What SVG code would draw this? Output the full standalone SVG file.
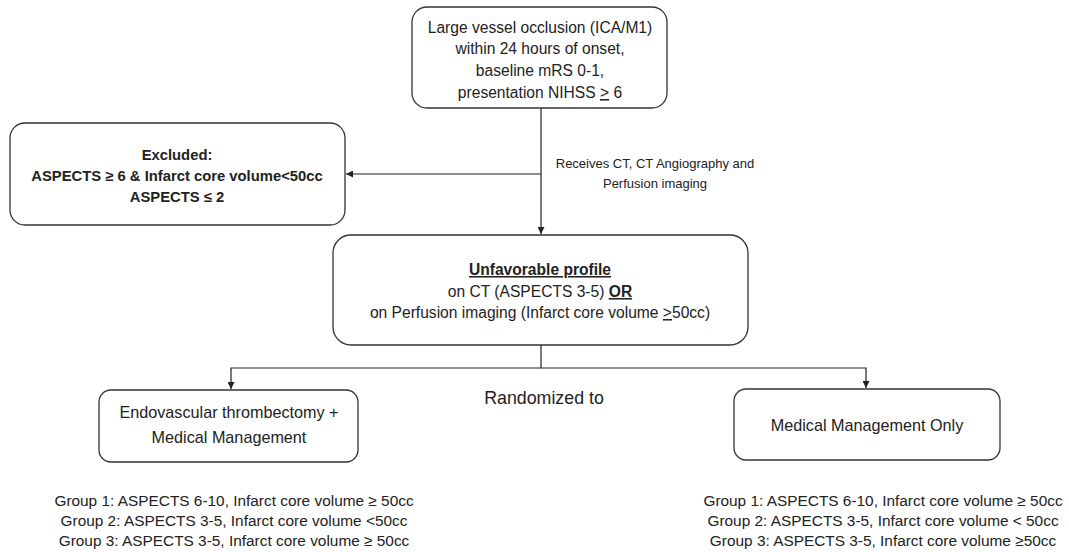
<svg xmlns="http://www.w3.org/2000/svg" width="1069" height="552" viewBox="0 0 1069 552">
<style>
.box{fill:#fff;stroke:#333;stroke-width:1.3}
.t{font-family:"Liberation Sans",Arial,sans-serif;fill:#222;text-anchor:middle}
.n{font-size:15.6px}
.m{font-size:16.2px}
.b{font-size:14.8px;font-weight:bold}
.s{font-size:13px}
.g{font-size:15.4px}
.ln{fill:none;stroke:#222;stroke-width:1.2}
</style>
<defs>
<marker id="ah" viewBox="0 0 10 10" refX="10" refY="5" markerWidth="7" markerHeight="7" orient="auto" markerUnits="userSpaceOnUse">
<path d="M0,0 L10,5 L0,10 z" fill="#222"/>
</marker>
</defs>
<rect width="1069" height="552" fill="#fff"/>
<g id="connectors">
<line class="ln" x1="541" y1="108" x2="541" y2="234" marker-end="url(#ah)"/>
<line class="ln" x1="541" y1="174" x2="346" y2="174" marker-end="url(#ah)"/>
<polyline class="ln" points="541,345 541,368 231,368 231,389" marker-end="url(#ah)"/>
<polyline class="ln" points="541,368 866,368 866,388" marker-end="url(#ah)"/>
</g>
<g id="n-top">
<rect class="box" x="412" y="7" width="255" height="101" rx="15"/>
<text class="t n" x="540" y="33">Large vessel occlusion (ICA/M1)</text>
<text class="t n" x="540" y="54">within 24 hours of onset,</text>
<text class="t n" x="540" y="76">baseline mRS 0-1,</text>
<text class="t n" x="540" y="98">presentation NIHSS <tspan text-decoration="underline">&gt;</tspan> 6</text>
</g>
<g id="n-excluded">
<rect class="box" x="10" y="123" width="335" height="102" rx="15"/>
<text class="t b" x="177" y="160">Excluded:</text>
<text class="t b" x="177" y="181">ASPECTS ≥ 6 &amp; Infarct core volume&lt;50cc</text>
<text class="t b" x="177" y="202">ASPECTS ≤ 2</text>
</g>
<g id="l-receives">
<text class="t s" x="655" y="168">Receives CT, CT Angiography and</text>
<text class="t s" x="655" y="188">Perfusion imaging</text>
</g>
<g id="n-unfav">
<rect class="box" x="333" y="235" width="415" height="110" rx="18"/>
<text class="t n" x="540" y="275" font-weight="bold" text-decoration="underline">Unfavorable profile</text>
<text class="t n" x="540" y="297">on CT (ASPECTS 3-5) <tspan font-weight="bold" text-decoration="underline">OR</tspan></text>
<text class="t n" x="540" y="318">on Perfusion imaging (Infarct core volume <tspan text-decoration="underline">&gt;</tspan>50cc)</text>
</g>
<g id="l-random">
<text class="t" x="544" y="404" font-size="17.8">Randomized to</text>
</g>
<g id="n-evt">
<rect class="box" x="99" y="390" width="259" height="72" rx="12"/>
<text class="t m" x="229" y="418">Endovascular thrombectomy +</text>
<text class="t m" x="229" y="443">Medical Management</text>
</g>
<g id="n-med">
<rect class="box" x="734" y="389" width="266" height="71" rx="12"/>
<text class="t m" x="867" y="431">Medical Management Only</text>
</g>
<g id="groups-left">
<text class="t g" x="234" y="506">Group 1: ASPECTS 6-10, Infarct core volume ≥ 50cc</text>
<text class="t g" x="234" y="526">Group 2: ASPECTS 3-5, Infarct core volume &lt;50cc</text>
<text class="t g" x="234" y="546">Group 3: ASPECTS 3-5, Infarct core volume ≥ 50cc</text>
</g>
<g id="groups-right">
<text class="t g" x="883" y="506">Group 1: ASPECTS 6-10, Infarct core volume ≥ 50cc</text>
<text class="t g" x="883" y="526">Group 2: ASPECTS 3-5, Infarct core volume &lt; 50cc</text>
<text class="t g" x="883" y="546">Group 3: ASPECTS 3-5, Infarct core volume ≥50cc</text>
</g>
</svg>
